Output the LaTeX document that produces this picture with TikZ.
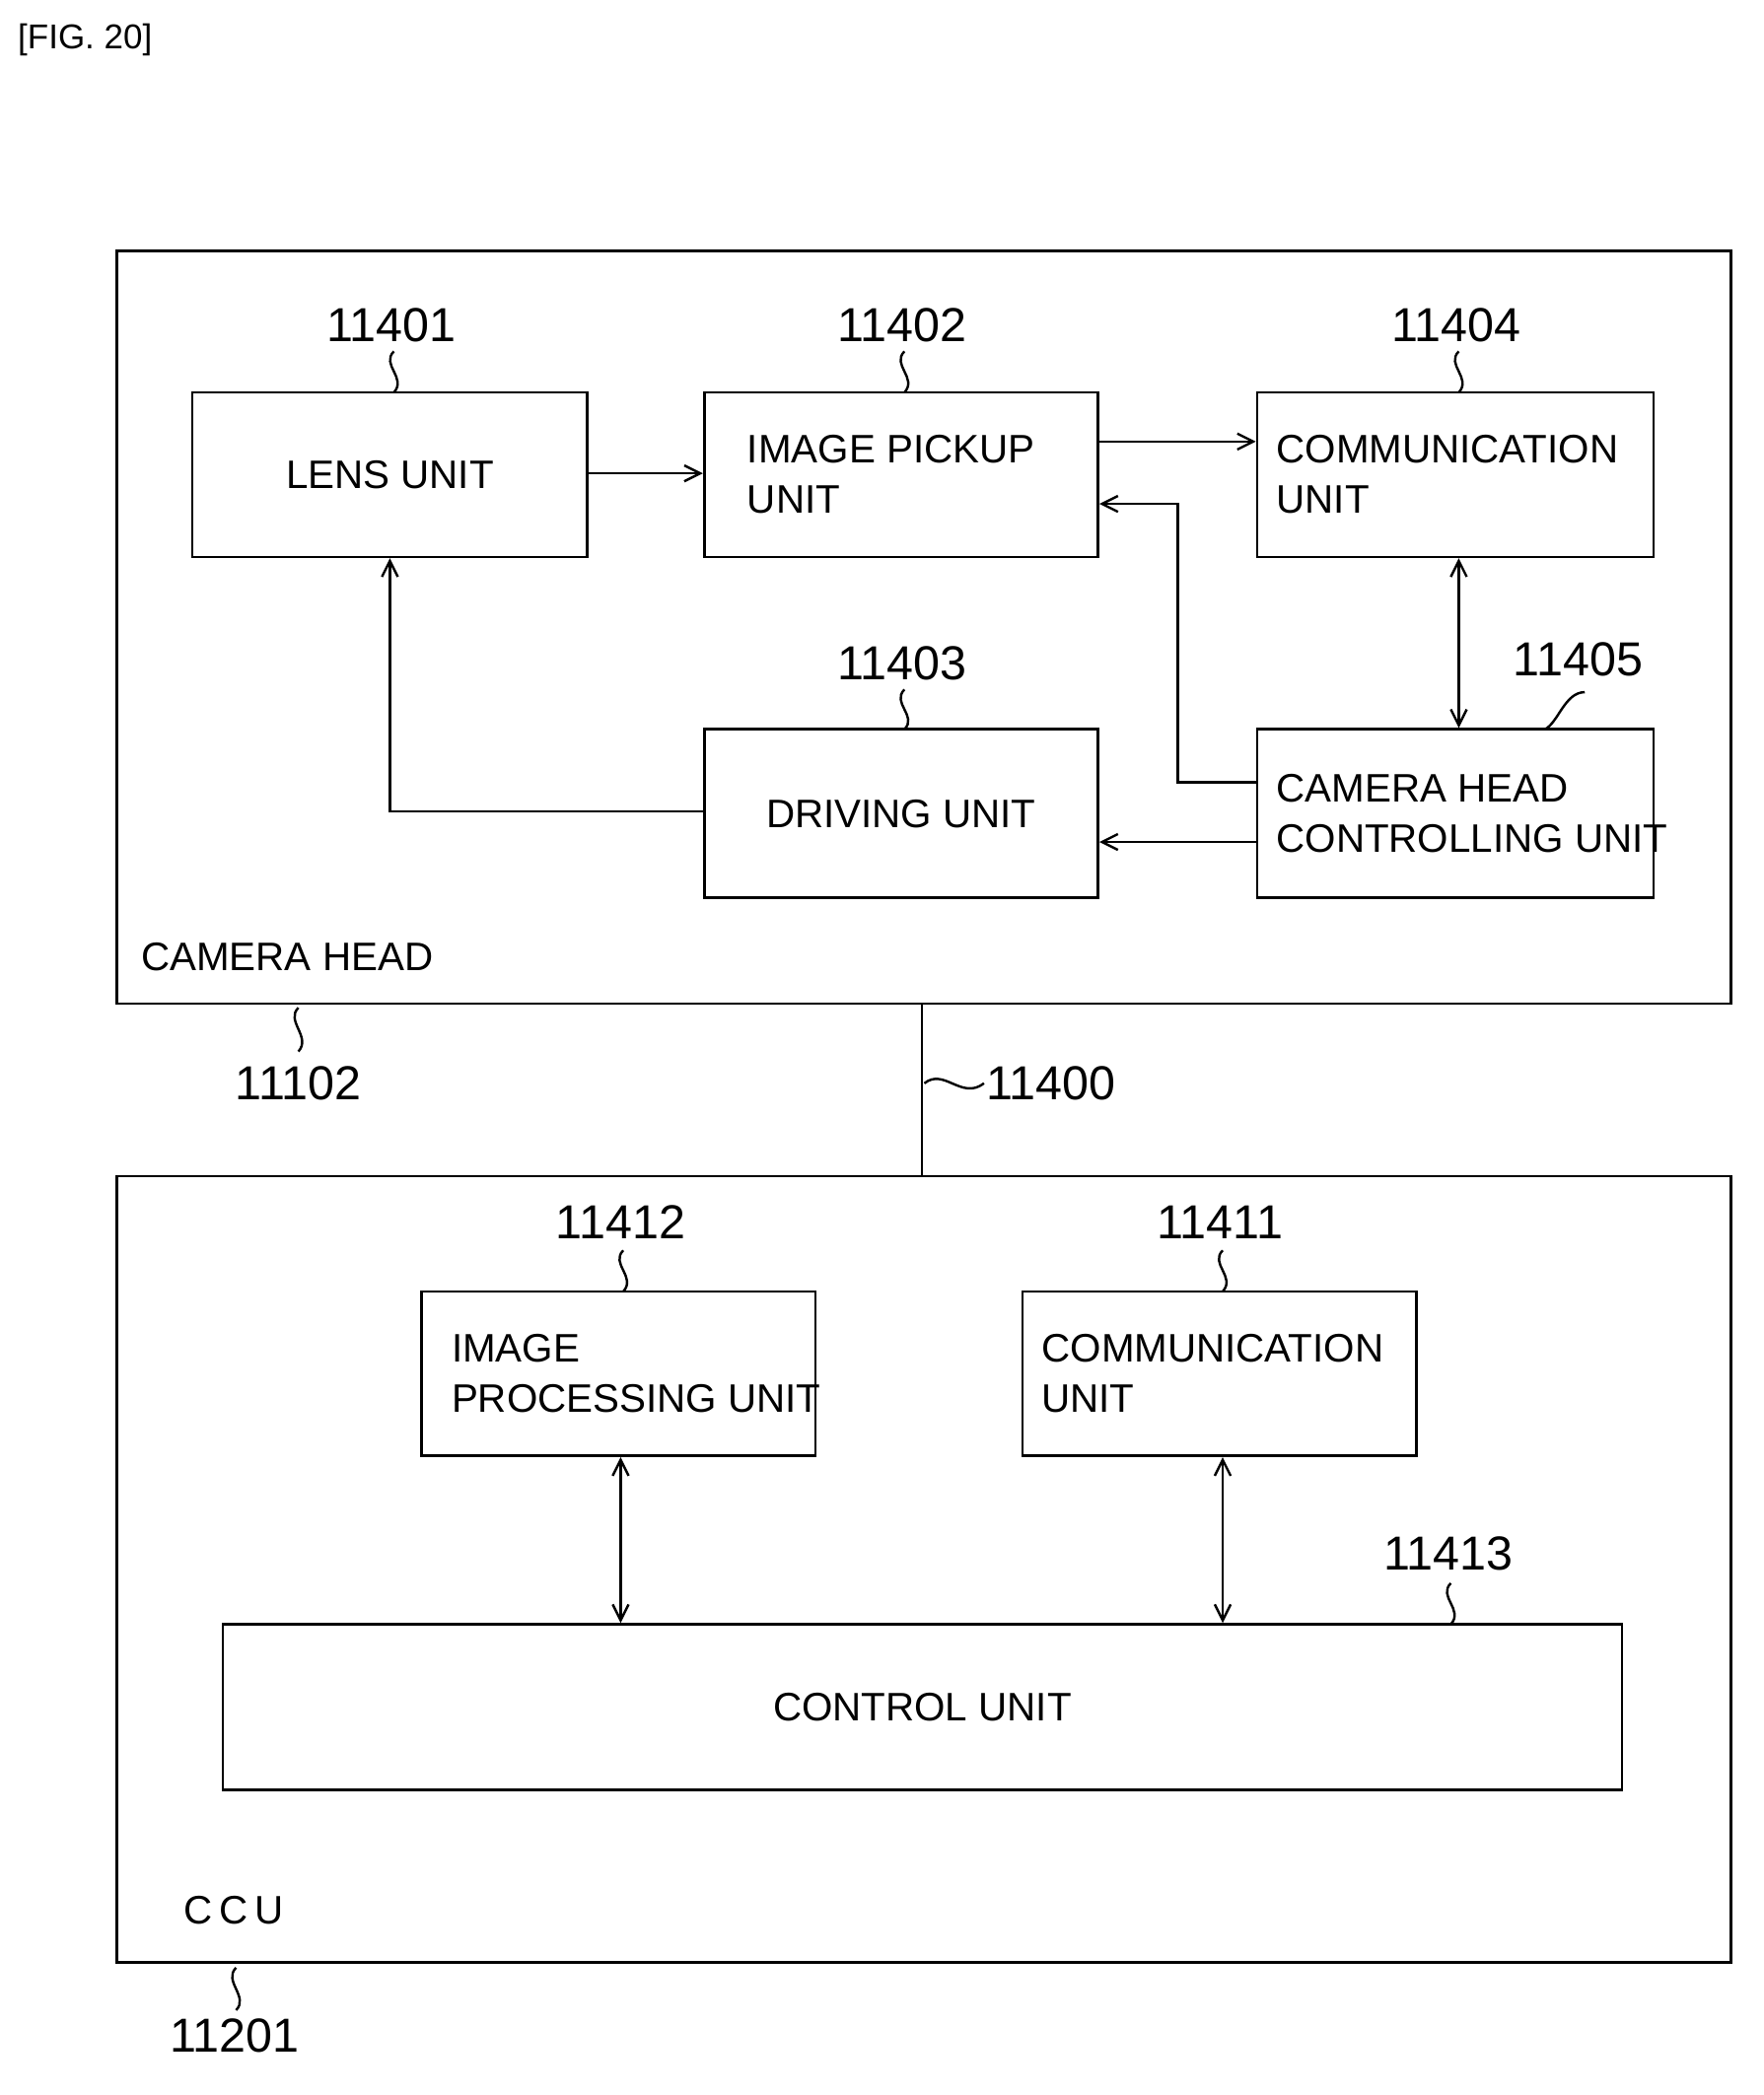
\documentclass[tikz,border=0pt]{standalone}
\usepackage{fontspec}
\setmainfont{Liberation Sans}
\begin{document}
\begin{tikzpicture}[x=1pt,y=-1pt,
  box/.style={draw,line width=2pt,inner sep=0pt},
  num/.style={font=\fontsize{36}{40}\selectfont},
  txt/.style={font=\fontsize{30}{38}\selectfont,align=left},
  ln/.style={line width=1.8pt},
  arr/.style={ln,->,>={Straight Barb[length=12pt,width=12pt]}},
  darr/.style={ln,<->,>={Straight Barb[length=12pt,width=12pt]}}]
\usetikzlibrary{arrows.meta}
\useasboundingbox (0,0) rectangle (1330,1580);
\node[anchor=west,font=\fontsize{26}{30}\selectfont] (fig) at (10,30) {[FIG. 20]};
% camera head
\draw[box] (88,189) rectangle (1305,757);
\coordinate (chT) at (695,757);
\node[txt,anchor=west] (chl) at (103,722) {CAMERA HEAD};
\node[num] (n11102) at (225,817) {11102};
\draw[ln] (225,760) .. controls (215,770) and (235,782) .. (225,793);
% boxes
\node[box,minimum width=298pt,minimum height=124pt,txt] (lens) at (294,358) {LENS UNIT};
\node[box,minimum width=297pt,minimum height=124pt] (pick) at (679.5,358) {};
\node[txt,anchor=west] at (pick.west) [xshift=30pt] {IMAGE PICKUP\\UNIT};
\node[box,minimum width=299pt,minimum height=124pt] (comm) at (1097.5,358) {};
\node[txt,anchor=west] at (comm.west) [xshift=12pt] {COMMUNICATION\\UNIT};
\node[box,minimum width=297pt,minimum height=127pt,txt] (drv) at (679.5,613.5) {DRIVING UNIT};
\node[box,minimum width=299pt,minimum height=127pt] (chcu) at (1097.5,613.5) {};
\node[txt,anchor=west] at (chcu.west) [xshift=12pt] {CAMERA HEAD\\CONTROLLING UNIT};
% numbers
\node[num] (n1) at (295,245) {11401};
\draw[ln] (297,265) .. controls (287,275) and (307,285) .. (297,296);
\node[num] (n2) at (680,245) {11402};
\draw[ln] (682,265) .. controls (672,275) and (692,285) .. (682,296);
\node[num] (n4) at (1098,245) {11404};
\draw[ln] (1100,265) .. controls (1090,275) and (1110,285) .. (1100,296);
\node[num] (n3) at (680,500) {11403};
\draw[ln] (682,520) .. controls (672,530) and (692,540) .. (682,550);
\node[num] (n5) at (1190,497) {11405};
\draw[ln] (1195,522) .. controls (1180,522) and (1175,545) .. (1165,550);
% connectors
\draw[arr] (lens.east |- 0,357) -- (pick.west |- 0,357);
\draw[arr] (pick.east |- 0,333) -- (comm.west |- 0,333);
\draw[arr] (chcu.west |- 0,590) -| (888,380) -- (pick.east |- 0,380);
\draw[arr] (chcu.west |- 0,635) -- (drv.east |- 0,635);
\draw[arr] (drv.west |- 0,612) -| (lens.south);
\draw[darr] (comm.south -| 1100,0) -- (chcu.north -| 1100,0);
% cable
\coordinate (ccuT) at (695,887);
\draw[ln] (chT) -- (ccuT);
\draw[ln] (697,817) .. controls (712,805) and (725,830) .. (742,817);
\node[num,anchor=west] (n11400) at (740,817) {11400};
% CCU
\draw[box] (88,887) rectangle (1305,1480);
\node[txt,anchor=west] (ccul) at (135,1441) {C\,C\,U};
\node[num] (n11201) at (177,1535) {11201};
\draw[ln] (178,1484) .. controls (168,1494) and (188,1506) .. (178,1516);
\node[box,minimum width=297pt,minimum height=124pt] (ip) at (466.5,1036) {};
\node[txt,anchor=west] at (ip.west) [xshift=20pt] {IMAGE\\PROCESSING UNIT};
\node[box,minimum width=297pt,minimum height=124pt] (comm2) at (919.5,1036) {};
\node[txt,anchor=west] at (comm2.west) [xshift=12pt] {COMMUNICATION\\UNIT};
\node[box,minimum width=1055pt,minimum height=125pt,txt] (ctl) at (695.5,1287.5) {CONTROL UNIT};
\node[num] (n12) at (468,922) {11412};
\draw[ln] (470,943) .. controls (460,953) and (480,963) .. (470,974);
\node[num] (n11) at (920,922) {11411};
\draw[ln] (922,943) .. controls (912,953) and (932,963) .. (922,974);
\node[num] (n13) at (1092,1172) {11413};
\draw[ln] (1094,1194) .. controls (1084,1204) and (1104,1214) .. (1094,1225);
\draw[darr] (ip.south -| 468,0) -- (ctl.north -| 468,0);
\draw[darr] (comm2.south -| 922,0) -- (ctl.north -| 922,0);
\end{tikzpicture}
\end{document}
